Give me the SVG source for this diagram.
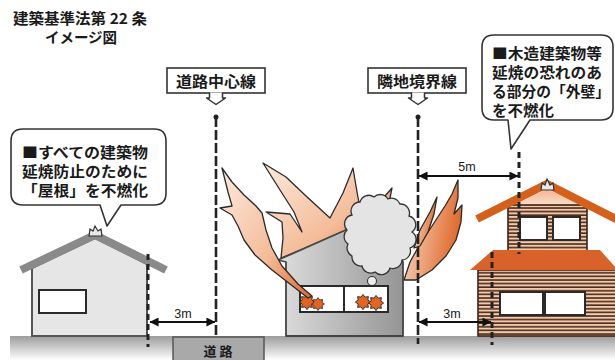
<svg xmlns="http://www.w3.org/2000/svg" width="615" height="360" viewBox="0 0 615 360">
  <defs>
    <style>
      .jp { font-family: "Noto Sans CJK JP", "Noto Sans", sans-serif; fill: #1a1a1a; }
      .title { font-size: 14.5px; font-weight: bold; }
      .tag { font-size: 15px; font-weight: bold; }
      .note { font-size: 14.5px; font-weight: bold; }
      .dimtxt { font-family: "Liberation Sans", Arial, sans-serif; font-size: 12.5px; fill: #1a1a1a; text-anchor: middle; }
      .axis { fill: none; stroke: #222; stroke-width: 2.6; stroke-dasharray: 10 3; }
      .setback { fill: none; stroke: #222; stroke-width: 3; stroke-dasharray: 6 4; }
      .dim { fill: none; stroke: #111; stroke-width: 2; marker-start: url(#arr); marker-end: url(#arr); }
      .balloon { fill: #fff; stroke: #333; stroke-width: 1.6; stroke-linejoin: round; }
      .tagbox { fill: #fff; stroke: #333; stroke-width: 1.6; }
      .flame { stroke: #2a2a2a; stroke-width: 1.3; stroke-linejoin: round; }
      .pane { fill: #fff; stroke: #2a2a2a; stroke-width: 2; }
      .blaze { fill: #e4641f; stroke: #2a2a2a; stroke-width: 1; }
      .timber { fill: url(#boards); stroke: #3a2418; stroke-width: 1.6; }
      .tile { fill: none; stroke-width: 8; stroke-linejoin: miter; }
    </style>
    <marker id="arr" viewBox="0 0 10 10" refX="9.5" refY="5" markerWidth="9" markerHeight="9" markerUnits="userSpaceOnUse" orient="auto-start-reverse">
      <path d="M0,0 L10,5 L0,10 Z" fill="#111"/>
    </marker>
    <linearGradient id="groundGrad" x1="0" y1="0" x2="0" y2="1">
      <stop offset="0" stop-color="#9c9c9c"/>
      <stop offset="1" stop-color="#ffffff"/>
    </linearGradient>
    <linearGradient id="fireGrad" x1="0" y1="0" x2="1" y2="1">
      <stop offset="0" stop-color="#fdeade"/>
      <stop offset="0.6" stop-color="#f4bc9a"/>
      <stop offset="1" stop-color="#e2672a"/>
    </linearGradient>
    <linearGradient id="fireGrad2" x1="0" y1="0" x2="1" y2="0.3">
      <stop offset="0" stop-color="#fbe3d3"/>
      <stop offset="1" stop-color="#e06a2c"/>
    </linearGradient>
    <linearGradient id="burnGrad" x1="0" y1="0" x2="1" y2="0">
      <stop offset="0" stop-color="#dedede"/>
      <stop offset="1" stop-color="#959595"/>
    </linearGradient>
    <linearGradient id="gableGrad" x1="0" y1="0" x2="0" y2="1">
      <stop offset="0" stop-color="#f3b48e"/>
      <stop offset="1" stop-color="#fbe2d0"/>
    </linearGradient>
    <pattern id="boards" x="0" y="0" width="8" height="3.6" patternUnits="userSpaceOnUse">
      <rect width="8" height="3.6" fill="#f3c9a8"/>
      <rect y="2" width="8" height="1.6" fill="#4a2c20"/>
    </pattern>
    <polygon id="blazeShape" points="8,0 5.08,2.1 5.66,5.66 2.1,5.08 0,8 -2.1,5.08 -5.66,5.66 -5.08,2.1 -8,0 -5.08,-2.1 -5.66,-5.66 -2.1,-5.08 0,-8 2.1,-5.08 5.66,-5.66 5.08,-2.1"/>
  </defs>

  <rect width="615" height="360" fill="#fff"/>

  <!-- title -->
  <g id="title">
    <text class="jp title" x="13" y="24" textLength="134" lengthAdjust="spacingAndGlyphs">建築基準法第 22 条</text>
    <text class="jp title" x="81" y="43" text-anchor="middle">イメージ図</text>
  </g>

  <!-- ground strip -->
  <g id="ground">
    <rect x="10" y="336" width="605" height="24" fill="url(#groundGrad)"/>
  </g>

  <!-- left house: non-combustible roof -->
  <g id="house-left">
    <polygon points="32,336 32,268 95,238 147,264 147,336" fill="#e6e6e6" stroke="#555" stroke-width="2"/>
    <polyline class="tile" points="21,270 95,235 166,270" stroke="#8a8a8a"/>
    <rect class="pane" x="39" y="290" width="47" height="23"/>
    <path d="M89,236 L90,229 L93,231 L95,226 L98,231 L101,229 L102,236 Z" fill="#e8e8e8" stroke="#333" stroke-width="1.2"/>
  </g>

  <!-- flames behind the burning house -->
  <g id="fire-back">
    <path class="flame" fill="url(#fireGrad)" d="M281,258 L283,238 L282,222 L266,212 L290,214 L302,232 L294,212 L280,190 L263,163 L286,177 L306,196 L330,218 L343,193 L353,168 L357,192 L362,218 L378,204 L392,188 L388,208 L372,228 L348,231 Z"/>
    <path class="flame" fill="url(#fireGrad2)" d="M404,280 L410,262 L420,244 L432,226 L445,206 L452,194 L458,180 L458,198 L454,214 L462,205 L461,222 L456,240 L446,256 L432,270 L416,280 Z"/>
    <path class="flame" fill="url(#fireGrad2)" d="M414,248 L420,230 L430,212 L437,197 L434,214 L428,232 L420,246 Z"/>
  </g>

  <!-- burning house -->
  <g id="house-burning">
    <polygon points="278,260 348,229 396,252 403,262 403,336 286,336 286,262" fill="url(#burnGrad)" stroke="#444" stroke-width="1.8" stroke-linejoin="round"/>
    <path fill="#e4e4e4" stroke="#333" stroke-width="1.3" d="M352,215 A9,9 0 0 1 360,202 A9,9 0 0 1 374,197 A9,9 0 0 1 388,199 A9,9 0 0 1 400,204 A9,9 0 0 1 409,216 A9,9 0 0 1 412,232 A9,9 0 0 1 410,248 A9,9 0 0 1 402,260 A9,9 0 0 1 390,268 A9,9 0 0 1 375,272 A9,9 0 0 1 362,266 A9,9 0 0 1 352,256 A9,9 0 0 1 348,244 A9,9 0 0 1 347,230 A9,9 0 0 1 352,215 Z"/>
    <circle cx="372" cy="281" r="4.5" fill="#eee" stroke="#333" stroke-width="1.1"/>
    <rect class="pane" x="300" y="286" width="44" height="26"/>
    <rect class="pane" x="344" y="286" width="44" height="26"/>
    <use href="#blazeShape" class="blaze" transform="translate(307,302) scale(0.95)"/>
    <use href="#blazeShape" class="blaze" transform="translate(318,304) scale(0.8)"/>
    <use href="#blazeShape" class="blaze" transform="translate(363,302) scale(0.95)"/>
    <use href="#blazeShape" class="blaze" transform="translate(376,303) scale(0.95)"/>
    <!-- tongue of flame leaving the window -->
    <path class="flame" fill="url(#fireGrad)" d="M308,298 L290,284 L272,270 L255,255 L244,240 L238,226 L232,215 L220,208 L232,206 L228,192 L222,168 L232,182 L244,195 L256,206 L262,213 L266,230 L272,248 L282,266 L298,284 L312,296 Z"/>
  </g>

  <!-- right house: timber building with protected outer wall -->
  <g id="house-right">
    <polygon points="510,207 547,189 585,207" fill="url(#gableGrad)"/>
    <rect class="timber" x="508" y="205" width="79" height="46"/>
    <rect class="pane" x="520" y="217" width="27" height="23"/>
    <rect class="pane" x="553" y="217" width="27" height="23"/>
    <polyline class="tile" points="477,219 547,184 620,221" stroke="#d4601c"/>
    <path d="M541,190 L542,183 L545,185 L547,179 L550,185 L553,183 L554,190 Z" fill="#e8e8e8" stroke="#333" stroke-width="1.2"/>
    <rect class="timber" x="478" y="270" width="142" height="66"/>
    <rect class="pane" x="500" y="292" width="43" height="23"/>
    <rect class="pane" x="545" y="292" width="40" height="23"/>
    <polygon points="493,250 600,250 618,270 470,270" fill="#d8622a"/>
  </g>

  <!-- road label -->
  <g id="road">
    <rect x="173" y="337" width="91" height="26" fill="#a9a9a9" stroke="#555" stroke-width="1.5"/>
    <text class="jp" x="218" y="356" font-size="13" font-weight="bold" text-anchor="middle">道 路</text>
  </g>

  <!-- reference lines and distances -->
  <g id="connectors">
    <circle cx="216" cy="117" r="2.5" fill="#222"/>
    <line class="axis" x1="216" y1="117" x2="216" y2="337"/>
    <circle cx="418" cy="117" r="2.5" fill="#222"/>
    <line class="axis" x1="418" y1="117" x2="418" y2="344"/>
    <line class="setback" x1="148" y1="254" x2="148" y2="347"/>
    <line class="setback" x1="519" y1="152" x2="519" y2="254"/>
    <line class="setback" x1="492" y1="252" x2="492" y2="345"/>
    <line class="dim" x1="150" y1="322" x2="215" y2="322"/>
    <line class="dim" x1="419" y1="322" x2="491" y2="322"/>
    <line class="dim" x1="419" y1="176" x2="518" y2="176"/>
    <text class="dimtxt" x="183" y="318">3m</text>
    <text class="dimtxt" x="452" y="318">3m</text>
    <text class="dimtxt" x="467" y="171">5m</text>
  </g>

  <!-- line labels -->
  <g id="label-road-center">
    <rect class="tagbox" x="167" y="68" width="98" height="25"/>
    <path d="M209.5,92.5 L209.5,98 L206.5,98 L216,104.5 L225.5,98 L222.5,98 L222.5,92.5" fill="#fff" stroke="#333" stroke-width="1.5" stroke-linejoin="round"/>
    <text class="jp tag" x="216" y="86.5" text-anchor="middle" textLength="80" lengthAdjust="spacingAndGlyphs">道路中心線</text>
  </g>
  <g id="label-boundary">
    <rect class="tagbox" x="368" y="68" width="98" height="25"/>
    <path d="M411.5,92.5 L411.5,98 L408.5,98 L418,104.5 L427.5,98 L424.5,98 L424.5,92.5" fill="#fff" stroke="#333" stroke-width="1.5" stroke-linejoin="round"/>
    <text class="jp tag" x="417" y="86.5" text-anchor="middle" textLength="80" lengthAdjust="spacingAndGlyphs">隣地境界線</text>
  </g>

  <!-- callouts -->
  <g id="callout-roof">
    <path class="balloon" d="M23,129 H154 Q166,129 166,141 V193 Q166,205 154,205 H121 L107,226 L100,205 H23 Q11,205 11,193 V141 Q11,129 23,129 Z"/>
    <text class="jp note" x="22" y="158" textLength="126" lengthAdjust="spacingAndGlyphs">■すべての建築物</text>
    <text class="jp note" x="22" y="177" textLength="126" lengthAdjust="spacingAndGlyphs">延焼防止のために</text>
    <text class="jp note" x="22" y="196" textLength="126" lengthAdjust="spacingAndGlyphs">「屋根」を不燃化</text>
  </g>
  <g id="callout-wall">
    <path class="balloon" d="M494,35 H601 Q613,35 613,47 V108 Q613,120 601,120 H530 L511,149 L508,120 H494 Q482,120 482,108 V47 Q482,35 494,35 Z"/>
    <text class="jp note" x="492" y="59" textLength="110" lengthAdjust="spacingAndGlyphs">■木造建築物等</text>
    <text class="jp note" x="492" y="78" textLength="110" lengthAdjust="spacingAndGlyphs">延焼の恐れのあ</text>
    <text class="jp note" x="492" y="97" textLength="118" lengthAdjust="spacingAndGlyphs">る部分の「外壁」</text>
    <text class="jp note" x="492" y="116" textLength="62" lengthAdjust="spacingAndGlyphs">を不燃化</text>
  </g>
</svg>
